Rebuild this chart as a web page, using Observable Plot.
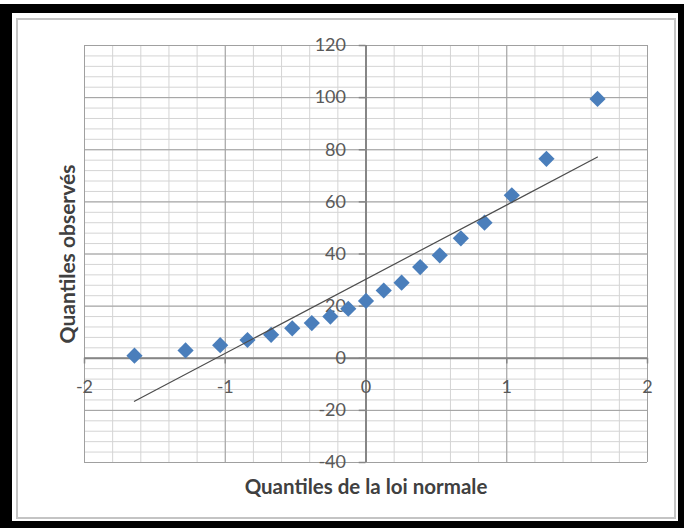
<!DOCTYPE html>
<html><head><meta charset="utf-8">
<script src="https://cdn.jsdelivr.net/npm/d3@7"></script>
<script src="https://cdn.jsdelivr.net/npm/@observablehq/plot@0.6"></script>
<style>
html,body{margin:0;padding:0;background:#fff;}
#wrap{position:relative;width:684px;height:528px;overflow:hidden;background:#fff;}
#chart{position:absolute;left:0;top:0;}
.frame-outer{position:absolute;left:0px;top:4px;right:0px;bottom:0px;border-style:solid;border-color:#000;border-width:9px 6px 7px 12px;}
.frame-inner{position:absolute;left:16px;top:18px;right:8px;bottom:9px;border:2px solid #c4c4c4;}
</style></head>
<body><div id="wrap"><div id="chart"></div><div class="frame-outer"></div><div class="frame-inner"></div></div>
<script>
const normalQuantiles = [-1.645, -1.282, -1.036, -0.842, -0.674, -0.524, -0.385, -0.253, -0.126, 0, 0.126, 0.253, 0.385, 0.524, 0.674, 0.842, 1.036, 1.282, 1.645];
const observed = [1, 3, 5, 7, 9, 11.5, 13.5, 16, 19, 22, 26, 29, 35, 39.5, 46, 52, 62.5, 76.5, 99.5];
// Reference (theoretical) line end points
const refLineX = [-1.645, 1.645];
const refLineY = [-16.5, 77.2];
// Axis ticks and labels
const xTicks = [-2, -1, 0, 1, 2];
const xTickLabels = ["-2", "-1", "0", "1", "2"];
const yTicks = [-40, -20, 0, 20, 40, 60, 80, 100, 120];
const yTickLabels = ["-40", "-20", "0", "20", "40", "60", "80", "100", "120"];
const xMinor = d3.range(-2, 2.0001, 0.2);
const yMinor = d3.range(-40, 120.001, 4);
const xTitle = "Quantiles de la loi normale";
const yTitle = "Quantiles observés";

const points = normalQuantiles.map((x, i) => ({x, y: observed[i]}));
const refLine = refLineX.map((x, i) => ({x, y: refLineY[i]}));
const xT = xTicks.map((v, i) => ({v, label: xTickLabels[i]}));
const yT = yTicks.map((v, i) => ({v, label: yTickLabels[i]}));

const font = "Lato, 'Open Sans', sans-serif";
const chart = Plot.plot({
  width: 684, height: 528,
  marginLeft: 84, marginRight: 37, marginTop: 45, marginBottom: 66,
  x: {domain: [-2, 2], axis: null},
  y: {domain: [-40, 120], axis: null},
  style: {fontFamily: font, fontSize: "18px", background: "transparent", overflow: "visible"},
  marks: [
    Plot.ruleX(xMinor, {x: d => d, y1: -40, y2: 120, stroke: "#d4d4d4", strokeWidth: 1}),
    Plot.ruleY(yMinor, {y: d => d, x1: -2, x2: 2, stroke: "#d4d4d4", strokeWidth: 1}),
    Plot.ruleX(xTicks, {x: d => d, y1: -40, y2: 120, stroke: "#a0a0a0", strokeWidth: 1}),
    Plot.ruleY(yTicks, {y: d => d, x1: -2, x2: 2, stroke: "#a0a0a0", strokeWidth: 1}),
    // axes crossing at origin
    Plot.ruleY([0], {x1: -2, x2: 2, stroke: "#868686", strokeWidth: 2}),
    Plot.ruleX([0], {y1: -40, y2: 120, stroke: "#868686", strokeWidth: 2}),
    Plot.ruleX(xT, {x: "v", y1: 0, y2: -2.2, stroke: "#868686", strokeWidth: 1.5}),
    Plot.ruleY(yT, {y: "v", x1: 0, x2: -0.048, stroke: "#868686", strokeWidth: 1.5}),
    Plot.text(xT, {x: "v", y: 0, text: "label", dy: 29, fill: "#595959", fontSize: 18}),
    Plot.text(yT, {x: 0, y: "v", text: "label", dx: -20, textAnchor: "end", fill: "#595959", fontSize: 18}),
    // data
    Plot.dot(points, {x: "x", y: "y", symbol: "diamond2", r: 7.3, fill: "#4a7ebb", stroke: "none"}),
    Plot.line(refLine, {x: "x", y: "y", stroke: "#4d4d4d", strokeWidth: 1.2}),
    // titles
    Plot.text([xTitle], {frameAnchor: "bottom", dy: 31, text: d => d, fontWeight: "bold", fontSize: 20.5, fill: "#404040"}),
    Plot.text([yTitle], {frameAnchor: "left", dx: -16, rotate: -90, textAnchor: "middle", text: d => d, fontWeight: "bold", fontSize: 21, fill: "#404040"})
  ]
});
document.getElementById("chart").appendChild(chart);
</script>
</body></html>
